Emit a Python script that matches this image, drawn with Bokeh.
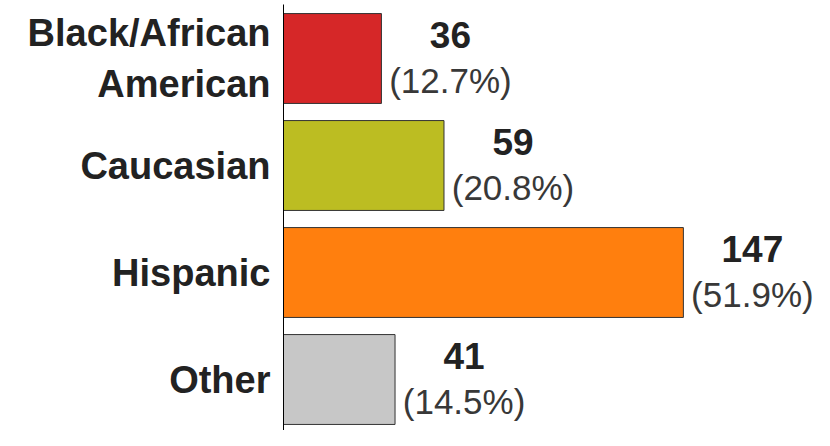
from bokeh.plotting import figure
from bokeh.models import ColumnDataSource, Range1d, FixedTicker
from bokeh.core.properties import value
from bokeh.embed import file_html
from bokeh.resources import INLINE

categories = ["Black/African\nAmerican", "Caucasian", "Hispanic", "Other"]
counts = [36, 59, 147, 41]
percents = ["(12.7%)", "(20.8%)", "(51.9%)", "(14.5%)"]
colors = ["#d62728", "#bcbd22", "#ff7f0e", "#c7c7c7"]

ypos = list(range(len(categories)))
src = ColumnDataSource(dict(
    y=ypos,
    count=counts,
    count_txt=[str(c) for c in counts],
    pct=percents,
    color=colors,
))

p = figure(width=814, height=430, output_backend="svg", toolbar_location=None,
           x_range=Range1d(0, 195.2), y_range=Range1d(3.4766, -0.5047),
           min_border_left=283, min_border_right=0, min_border_top=4, min_border_bottom=0)

p.hbar(y="y", left=0, right="count", height=0.84, fill_color="color",
       line_color="#333333", line_width=1, source=src)

p.text(x="count", y="y", text="count_txt", source=src, x_offset=69, y_offset=-24,
       text_align="center", text_baseline="alphabetic",
       text_font=value("Liberation Sans"), text_font_style="bold",
       text_font_size="37px", text_color="#222222")
p.text(x="count", y="y", text="pct", source=src, x_offset=69, y_offset=22,
       text_align="center", text_baseline="alphabetic",
       text_font=value("Liberation Sans"), text_font_size="35px",
       text_color="#383838")

p.xaxis.visible = False
p.grid.visible = False
p.outline_line_color = None

ax = p.yaxis[0]
ax.ticker = FixedTicker(ticks=ypos)
ax.major_label_overrides = {i: c for i, c in zip(ypos, categories)}
ax.major_tick_line_color = None
ax.minor_tick_line_color = None
ax.axis_line_color = "#000000"
ax.axis_line_width = 1
ax.major_label_standoff = 7
ax.major_label_text_font = "Liberation Sans"
ax.major_label_text_font_style = "bold"
ax.major_label_text_font_size = "38px"
ax.major_label_text_color = "#222222"

open("out.html", "w").write(file_html(p, INLINE))
